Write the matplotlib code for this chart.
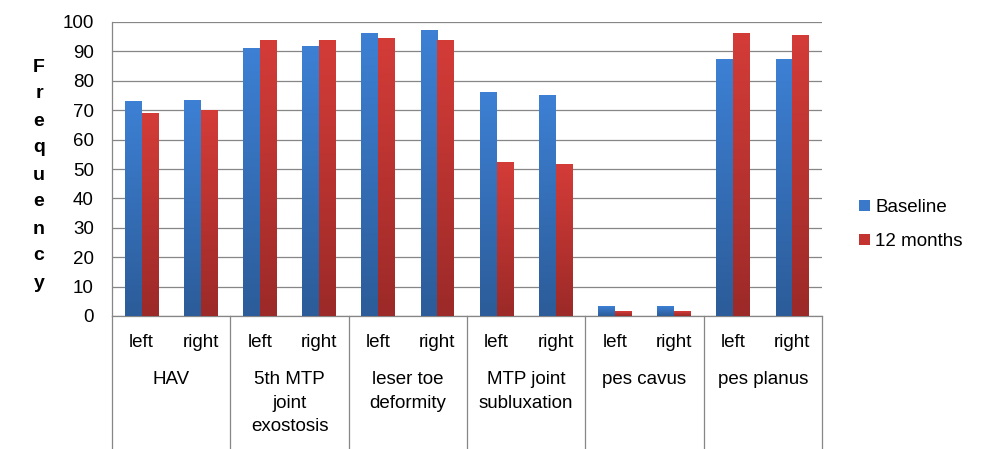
import numpy as np
import matplotlib
matplotlib.use("Agg")
import matplotlib.pyplot as plt
import matplotlib.transforms as mtransforms
from matplotlib.colors import LinearSegmentedColormap
from matplotlib.patches import Patch

plt.rcParams['font.family'] = ['Liberation Sans', 'DejaVu Sans']

# data
groups = ["HAV", "5th MTP\njoint\nexostosis", "leser toe\ndeformity",
          "MTP joint\nsubluxation", "pes cavus", "pes planus"]
sides = ["left", "right"]
baseline = [73, 73.6, 91.3, 91.9, 96.4, 97.4, 76.3, 75.3, 3.4, 3.4, 87.5, 87.5]
months12 = [69.1, 70.1, 94.0, 94.0, 94.7, 94.0, 52.4, 51.8, 1.7, 1.7, 96.4, 95.7]
series_names = ["Baseline", "12 months"]

blue_map = LinearSegmentedColormap.from_list("b", ["#2c5c99", "#3d80d4"])
red_map = LinearSegmentedColormap.from_list("r", ["#9c2a28", "#d43c38"])
grid_col = "#868686"

fig = plt.figure(figsize=(9.9, 4.49), dpi=100)
ax = fig.add_axes([112 / 990, 1 - 316 / 449, 710 / 990, 294 / 449])

n = len(baseline)
x = np.arange(n)
w = 1 / 3.5
grad = np.linspace(0, 1, 100).reshape(-1, 1)

def gradient_bars(xpos, vals, cmap, solid):
    bars = ax.bar(xpos, vals, w, color=solid, zorder=3, linewidth=0)
    for b in bars:
        x0 = b.get_x()
        h = b.get_height()
        im = ax.imshow(grad, extent=(x0, x0 + w, 0, h), origin="lower",
                       aspect="auto", cmap=cmap, zorder=3.5)
        im.set_clip_path(b)
    return bars

gradient_bars(x - w / 2, baseline, blue_map, "#3570bb")
gradient_bars(x + w / 2, months12, red_map, "#bb3431")

ax.set_xlim(-0.5, n - 0.5)
ax.set_ylim(0, 100)
ax.set_yticks(np.arange(0, 101, 10))
ax.yaxis.grid(True, color=grid_col, linewidth=0.9)
ax.set_axisbelow(True)
ax.tick_params(axis="y", length=0, pad=13, labelsize=13.5)
ax.tick_params(axis="x", length=0)
ax.set_xticks([])
for s in ["top", "right"]:
    ax.spines[s].set_visible(False)
for s in ["left", "bottom"]:
    ax.spines[s].set_color(grid_col)
    ax.spines[s].set_linewidth(0.9)

trans = mtransforms.blended_transform_factory(ax.transData, ax.transAxes)
for i in range(n):
    ax.text(x[i], -0.09, sides[i % 2], transform=trans, ha="center",
            va="center", fontsize=13.5)
for g, name in enumerate(groups):
    ax.text(2 * g + 0.5, -0.188, name, transform=trans, ha="center",
            va="top", fontsize=13.5, linespacing=1.5)
for g in range(len(groups) + 1):
    xb = 2 * g - 0.5
    ax.plot([xb, xb], [0, -0.46], transform=trans, clip_on=False,
            color=grid_col, linewidth=0.9)

# stacked y label
for k, ch in enumerate("Frequency"):
    fig.text(39 / 990, 1 - (67 + 27 * k) / 449, ch, ha="center", va="center",
             fontsize=14, fontweight="bold")

handles = [Patch(facecolor="#3a78c9"), Patch(facecolor="#c3332f")]
fig.legend(handles, series_names, loc="center left", frameon=False,
           bbox_to_anchor=(850 / 990, 1 - 224.5 / 449), fontsize=13.5,
           handlelength=0.55, handleheight=0.55, handletextpad=0.3,
           labelspacing=0.9, borderpad=0)

fig.savefig("out.png", dpi=100)
